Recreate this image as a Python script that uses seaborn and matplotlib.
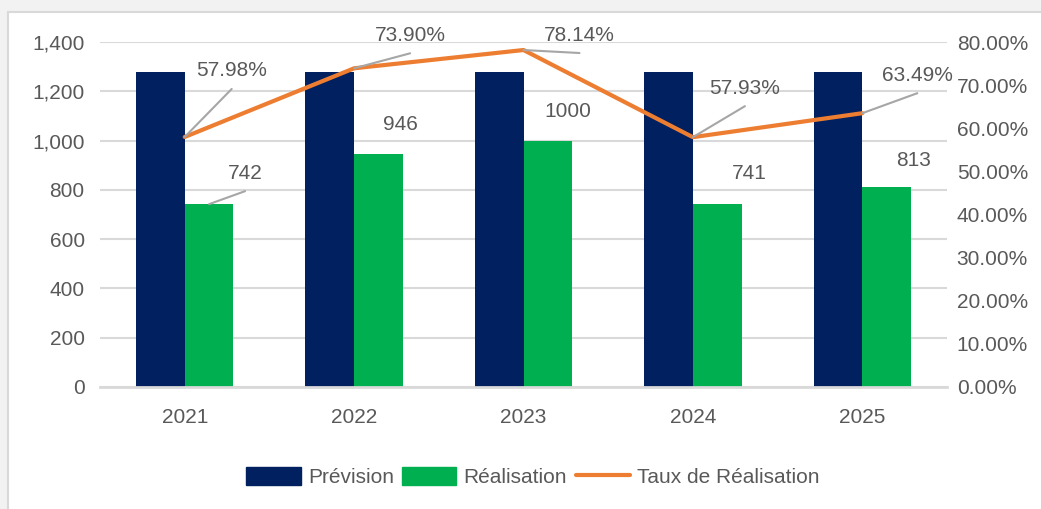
import numpy as np
import pandas as pd
import matplotlib.pyplot as plt
import seaborn as sns
from matplotlib.patches import Rectangle, Patch
from matplotlib.lines import Line2D
from matplotlib.ticker import FuncFormatter

# data
years = ['2021', '2022', '2023', '2024', '2025']
prevision = [1280, 1280, 1280, 1280, 1280]
realisation = [742, 946, 1000, 741, 813]
taux = [57.98, 73.90, 78.14, 57.93, 63.49]

# label offsets in pixels (dx, dy) and whether a leader line is drawn
taux_offsets = [(47, 66), (56, 33), (56, 15), (52, 49), (55, 38)]
taux_leader = [True, True, True, True, True]
real_offsets = [(36, 31), (22, 29), (20, 29), (32, 31), (27, 26)]
real_leader = [True, False, False, False, False]
lead_gap = 18  # leader ends this many pixels below the label centre

navy = '#002060'
green = '#00B050'
orange = '#ED7D31'
txt = '#595959'
gridc = '#D9D9D9'
leadc = '#A6A6A6'

sns.set_style('white')
plt.rcParams['font.family'] = ['Liberation Sans', 'DejaVu Sans']
plt.rcParams['font.size'] = 15

df = pd.DataFrame({
    'Année': years * 2,
    'Valeur': prevision + realisation,
    'Série': ['Prévision'] * len(years) + ['Réalisation'] * len(years),
})

fig = plt.figure(figsize=(10.41, 5.09), dpi=100, facecolor='#F2F2F2')
fig.patches.append(Rectangle((8 / 1041, -0.05), 1.1, 1 - 12 / 509 + 0.05,
                             transform=fig.transFigure, facecolor='white',
                             edgecolor=gridc, lw=1.5, zorder=-10))

ax = fig.add_axes([100 / 1041, 1 - 387 / 509, 847 / 1041, 345 / 509])
ax.set_facecolor('none')
sns.barplot(data=df, x='Année', y='Valeur', hue='Série', palette=[navy, green],
            width=0.576, saturation=1, linewidth=0, legend=False, ax=ax)
ax.set_xlim(-0.5, 4.5)
ax.set_ylim(0, 1400)
ax.set_yticks(range(0, 1401, 200))
ax.yaxis.set_major_formatter(FuncFormatter(lambda v, p: f'{v:,.0f}'))
ax.set_xlabel('')
ax.set_ylabel('')
ax.yaxis.grid(True, color=gridc, lw=1.5)
ax.set_axisbelow(True)
for s in ['top', 'left', 'right']:
    ax.spines[s].set_visible(False)
ax.spines['bottom'].set_color(gridc)
ax.spines['bottom'].set_linewidth(2)
ax.tick_params(axis='x', length=0, pad=15, colors=txt)
ax.tick_params(axis='y', length=0, pad=11, colors=txt)

ax2 = ax.twinx()
sns.lineplot(x=np.arange(len(years)), y=taux, color=orange, lw=3, ax=ax2)
ax2.lines[0].set_solid_joinstyle('round')
ax2.set_ylim(0, 80)
ax2.set_yticks(range(0, 81, 10))
ax2.yaxis.set_major_formatter(FuncFormatter(lambda v, p: f'{v:.2f}%'))
for s in ax2.spines.values():
    s.set_visible(False)
ax2.tick_params(axis='y', length=0, pad=7, colors=txt)


def label(axis, x, y, text, off, lead):
    if lead:
        axis.annotate('', xy=(x, y), xytext=(off[0], off[1] - lead_gap),
                      textcoords='offset pixels',
                      arrowprops=dict(arrowstyle='-', color=leadc, lw=1.5,
                                      patchA=None, shrinkA=0, shrinkB=0))
    axis.annotate(text, xy=(x, y), xytext=off, textcoords='offset pixels',
                  ha='center', va='center', color=txt)


# labels for the rate line
for (x, y), off, lead in zip(ax2.lines[0].get_xydata(), taux_offsets, taux_leader):
    label(ax2, x, y, f'{y:.2f}%', off, lead)

# labels for the Réalisation bars
for bar, v, off, lead in zip(ax.containers[1], realisation, real_offsets, real_leader):
    label(ax, bar.get_x() + bar.get_width() / 2, bar.get_height(), f'{v}', off, lead)

handles = [Patch(color=navy), Patch(color=green), Line2D([], [], color=orange, lw=3)]
fig.legend(handles, ['Prévision', 'Réalisation', 'Taux de Réalisation'],
           loc='center', bbox_to_anchor=(0.512, 0.063), ncol=3, frameon=False,
           handlelength=2.6, handleheight=1.0, handletextpad=0.35,
           columnspacing=0.4, labelcolor=txt)

fig.savefig('out.png', dpi=100, facecolor=fig.get_facecolor())
